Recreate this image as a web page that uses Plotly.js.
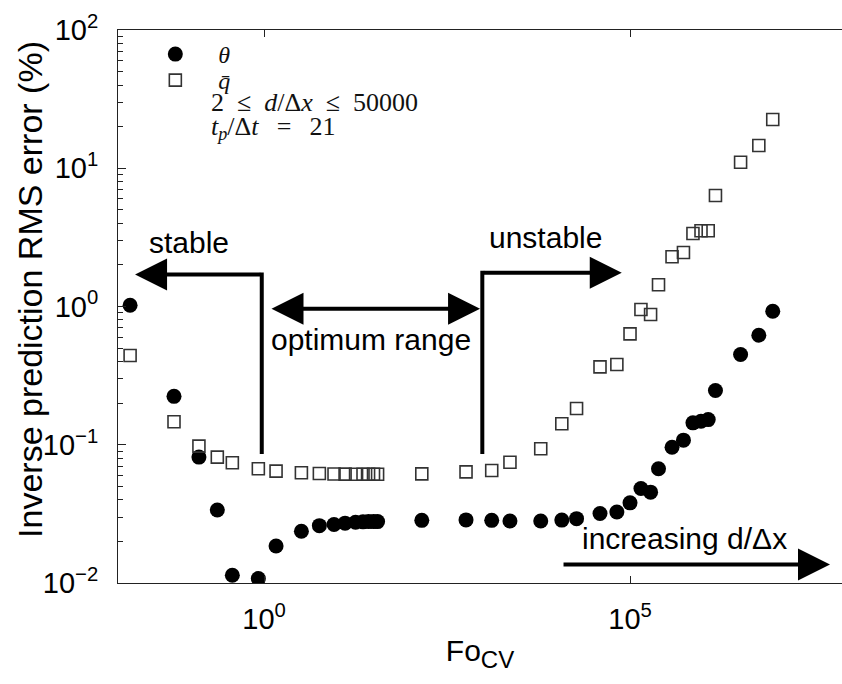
<!DOCTYPE html>
<html>
<head>
<meta charset="utf-8">
<script src="https://cdn.plot.ly/plotly-3.0.1.min.js"></script>
<style>
html,body{margin:0;padding:0;background:#fff;overflow:hidden;}
#chart{width:842px;height:684px;}
</style>
</head>
<body>
<div id="chart"></div>
<script>
// Fo_CV values (x) shared by both series
const foCV = [0.0148, 0.0589, 0.129, 0.230, 0.369, 0.836, 1.46, 3.24, 5.70,
  9.04, 12.8, 17.8, 22.5, 26.8, 31.3, 35.6, 143, 575, 1290, 2290, 6030,
  11700, 18600, 38900, 66100, 100000, 141000, 191000, 245000, 375000,
  537000, 724000, 933000, 1170000, 1470000, 3240000, 5750000, 8910000];
// theta RMS error (%)
const thetaErr = [1.02, 0.224, 0.0814, 0.0337, 0.01138, 0.01076, 0.0185, 0.0237, 0.026,
  0.0265, 0.0271, 0.0275, 0.0277, 0.0278, 0.0278, 0.0278, 0.0284, 0.0286, 0.0284, 0.0281, 0.0281,
  0.0285, 0.0292, 0.0318, 0.0326, 0.0380, 0.0483, 0.0454, 0.067, 0.096,
  0.108, 0.144, 0.148, 0.152, 0.247, 0.45, 0.62, 0.925];
// q-bar RMS error (%)
const qbarErr = [0.442, 0.1466, 0.0977, 0.0814, 0.0741, 0.067, 0.0644, 0.0627, 0.062,
  0.0615, 0.0613, 0.0612, 0.0612, 0.0612, 0.0612, 0.0612, 0.0616, 0.0636, 0.0652, 0.0748, 0.0936,
  0.1418, 0.183, 0.366, 0.381, 0.634, 0.951, 0.875, 1.435, 2.29,
  2.46, 3.37, 3.53, 3.53, 6.35, 11.05, 14.6, 22.5];

const seriesNames = ['<i>θ</i>', '<i>q̄</i>'];
const xTickVals = [1, 100000];
const xTickText = ['10<sup>0</sup>', '10<sup>5</sup>'];
const yTickVals = [0.01, 0.1, 1, 10, 100];
const yTickText = ['10<sup>−2</sup>', '10<sup>−1</sup>', '10<sup>0</sup>', '10<sup>1</sup>', '10<sup>2</sup>'];
const infoLines = ['2\u2002≤\u2002<i>d</i>/Δ<i>x</i>\u2002≤\u200250000',
  '<i>t</i><sub><i>p</i></sub>/Δ<i>t</i>\u2002\u2009=\u2002\u200921'];
const labels = {stable: 'stable', unstable: 'unstable', optimum: 'optimum range', increasing: 'increasing d/Δx'};
const yTitle = 'Inverse prediction RMS error (%)';
const xTitle = 'Fo<sub><span style="font-size:24px">CV</span></sub>';

// minor ticks for the log y axis (2..9 in each decade)
const yMinor = [];
for (let d = -2; d < 2; d++) for (let k = 2; k <= 9; k++) yMinor.push(k * Math.pow(10, d));

const sans = 'Liberation Sans, Arial, Helvetica, sans-serif';
const serif = 'Liberation Serif, Times New Roman, serif';
const ink = '#111';

const traces = [
  {x: foCV, y: thetaErr, name: seriesNames[0], type: 'scatter', mode: 'markers', legend: 'legend',
   marker: {symbol: 'circle', size: 15, color: '#000'}},
  {x: foCV, y: qbarErr, name: seriesNames[1], type: 'scatter', mode: 'markers', legend: 'legend2',
   marker: {symbol: 'square-open', size: 12, color: '#333', line: {width: 1.6, color: '#333'}}}
];

function line(x0, y0, x1, y1, head, both) {
  const a = {x: x1, y: y1, ax: x0, ay: y0, xref: 'x', yref: 'y', axref: 'x', ayref: 'y',
    text: '', showarrow: true, arrowcolor: '#000', arrowwidth: 4, standoff: 0,
    arrowhead: head ? 2 : 0, arrowsize: 1.6};
  if (both) { a.arrowside = 'end+start'; a.startarrowhead = 2; a.startarrowsize = 1.6; a.startstandoff = 0; }
  return a;
}
function label(t, x, y) {
  return {x: x, y: y, xref: 'x', yref: 'y', text: t, showarrow: false,
    xanchor: 'center', yanchor: 'middle', font: {family: sans, size: 30, color: '#000'}};
}

const annotations = [
  // stable bracket
  line(-0.031, -1.077, -0.031, 0.246, false),
  line(-0.031, 0.231, -1.762, 0.231, true),
  // unstable bracket
  line(2.982, -1.077, 2.982, 0.258, false),
  line(2.982, 0.2437, 4.887, 0.2437, true),
  // optimum range double arrow
  line(0.082, -0.0166, 2.951, -0.0166, true, true),
  // increasing d/dx arrow
  line(4.071, -1.866, 7.732, -1.866, true),
  label(labels.stable, -1.025, 0.466),
  label(labels.unstable, 3.839, 0.5025),
  label(labels.optimum, 1.462, -0.2386),
  label(labels.increasing, 5.751, -1.681),
  {x: 0.1257, y: 0.868, xref: 'paper', yref: 'paper', text: infoLines[0], showarrow: false,
   xanchor: 'left', yanchor: 'middle', font: {family: serif, size: 26, color: ink}},
  {x: 0.1257, y: 0.8228, xref: 'paper', yref: 'paper', text: infoLines[1], showarrow: false,
   xanchor: 'left', yanchor: 'middle', font: {family: serif, size: 26, color: ink}},
  {x: -0.1215, y: 0.530, xref: 'paper', yref: 'paper', text: yTitle,
   textangle: -90, showarrow: false, xanchor: 'center', yanchor: 'middle',
   font: {family: sans, size: 34, color: '#000'}}
];

const legendBase = {xanchor: 'left', yanchor: 'top', bgcolor: 'rgba(0,0,0,0)', itemwidth: 76,
  font: {family: serif, size: 24, color: ink}};

const layout = {
  width: 842, height: 684,
  margin: {l: 118, r: 0, t: 30, b: 101},
  paper_bgcolor: '#fff', plot_bgcolor: '#fff',
  showlegend: true,
  legend: Object.assign({x: 0.0198, y: 0.9964}, legendBase),
  legend2: Object.assign({x: 0.0198, y: 0.9494}, legendBase),
  xaxis: {type: 'log', range: [-1.995, 7.896], showgrid: false, zeroline: false,
    showline: true, linecolor: '#222', linewidth: 1, mirror: 'ticks',
    ticks: 'inside', ticklen: 7, tickcolor: '#222',
    tickmode: 'array', tickvals: xTickVals, ticktext: xTickText,
    ticklabelstandoff: 10,
    tickfont: {family: sans, size: 29, color: '#000'},
    title: {text: xTitle, font: {family: sans, size: 30, color: '#000'}, standoff: 6}},
  yaxis: {type: 'log', range: [-2, 2], showgrid: false, zeroline: false,
    showline: true, linecolor: '#222', linewidth: 1, mirror: false,
    ticks: 'inside', ticklen: 8, tickcolor: '#222',
    tickmode: 'array', tickvals: yTickVals, ticktext: yTickText,
    ticklabelstandoff: 13,
    tickfont: {family: sans, size: 29, color: '#000'},
    minor: {tickmode: 'array', tickvals: yMinor, ticks: 'inside', ticklen: 5, tickcolor: '#222', showgrid: false}},
  annotations: annotations
};

Plotly.newPlot('chart', traces, layout, {displayModeBar: false, staticPlot: true});
</script>
</body>
</html>
